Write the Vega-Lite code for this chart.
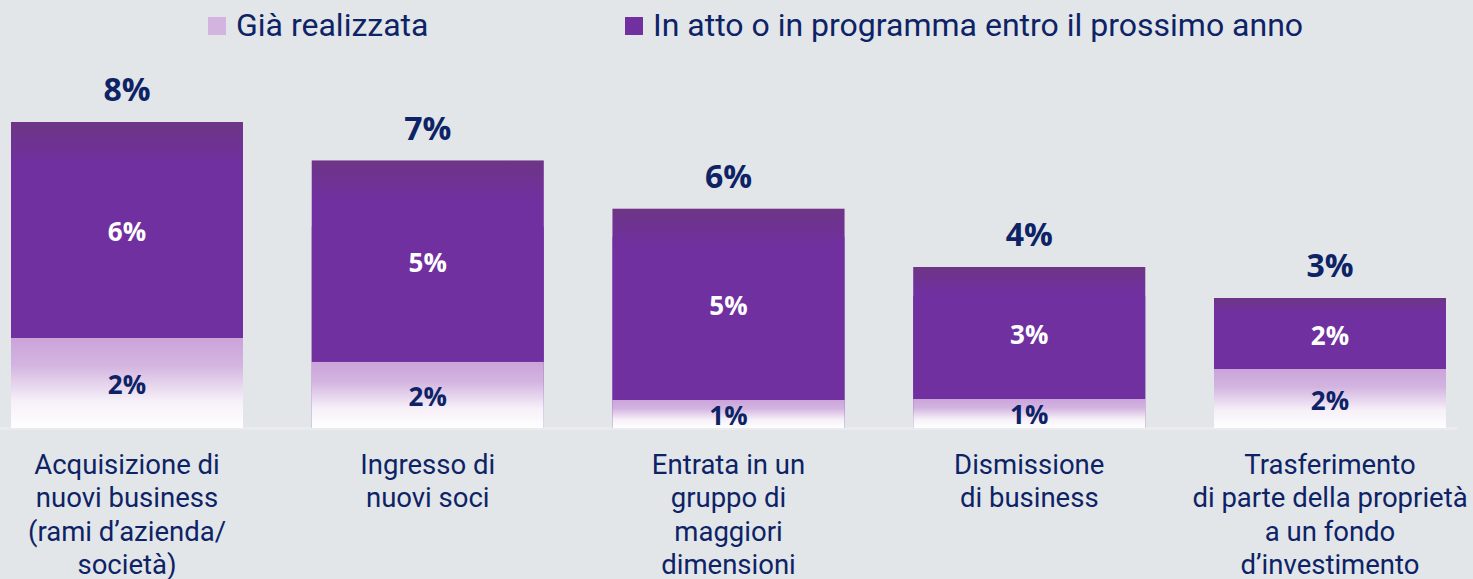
{
  "$schema": "https://vega.github.io/schema/vega-lite/v6.json",
  "width": 1457,
  "height": 368,
  "autosize": {"type": "none"},
  "padding": {"left": 0, "top": 60, "right": 16, "bottom": 151},
  "background": "#e2e6e9",
  "config": {"view": {"stroke": null}},
  "data": {
    "values": [
      {"cat": "Acquisizione di|nuovi business|(rami d’azienda/|società)", "serie": "Già realizzata", "value": 0.0235},
      {"cat": "Acquisizione di|nuovi business|(rami d’azienda/|società)", "serie": "In atto o in programma entro il prossimo anno", "value": 0.0565},
      {"cat": "Ingresso di|nuovi soci", "serie": "Già realizzata", "value": 0.0173},
      {"cat": "Ingresso di|nuovi soci", "serie": "In atto o in programma entro il prossimo anno", "value": 0.0526},
      {"cat": "Entrata in un|gruppo di|maggiori|dimensioni", "serie": "Già realizzata", "value": 0.0073},
      {"cat": "Entrata in un|gruppo di|maggiori|dimensioni", "serie": "In atto o in programma entro il prossimo anno", "value": 0.05},
      {"cat": "Dismissione|di business", "serie": "Già realizzata", "value": 0.0076},
      {"cat": "Dismissione|di business", "serie": "In atto o in programma entro il prossimo anno", "value": 0.0345},
      {"cat": "Trasferimento|di parte della proprietà|a un fondo|d’investimento", "serie": "Già realizzata", "value": 0.0154},
      {"cat": "Trasferimento|di parte della proprietà|a un fondo|d’investimento", "serie": "In atto o in programma entro il prossimo anno", "value": 0.0186}
    ]
  },
  "encoding": {
    "x": {
      "field": "cat",
      "type": "nominal",
      "sort": null,
      "scale": {"paddingInner": 0.2286, "paddingOuter": 0.0366},
      "axis": {
        "title": null,
        "labelAngle": 0,
        "ticks": false,
        "domain": true,
        "domainColor": "#eaebee",
        "domainWidth": 3,
        "labelFont": "Roboto",
        "labelFontSize": 27.5,
        "labelColor": "#0d2366",
        "labelLineHeight": 33.5,
        "labelPadding": 23,
        "labelOverlap": false,
        "labelLimit": 500,
        "labelExpr": "split(datum.value, '|')"
      }
    }
  },
  "layer": [
    {
      "mark": {"type": "bar"},
      "encoding": {
        "y": {"field": "value", "type": "quantitative", "stack": "zero", "scale": {"domain": [0, 0.0962]}, "axis": null},
        "color": {
          "field": "serie",
          "type": "nominal",
          "scale": {
            "domain": ["Già realizzata", "In atto o in programma entro il prossimo anno"],
            "range": ["#d3b4e0", "#7030a0"]
          },
          "legend": {
            "title": null,
            "orient": "none",
            "legendX": 201,
            "legendY": -50,
            "direction": "horizontal",
            "columns": 2,
            "columnPadding": 189,
            "symbolType": "square",
            "symbolSize": 324,
            "symbolStrokeWidth": 0,
            "labelFont": "Roboto",
            "labelFontSize": 32,
            "labelColor": "#0d2366",
            "labelOffset": 3,
            "labelLimit": 800
          }
        }
      }
    },
    {
      "transform": [
        {"stack": "value", "groupby": ["cat"], "sort": [{"field": "serie", "order": "ascending"}], "as": ["y0", "y1"]},
        {"filter": {"field": "serie", "equal": "Già realizzata"}}
      ],
      "mark": {
        "type": "bar",
        "color": {"gradient": "linear", "x1": 0, "y1": 0, "x2": 0, "y2": 1, "stops": [
          {"offset": 0, "color": "#cba4da"},
          {"offset": 0.3, "color": "#d3b4e0"},
          {"offset": 0.7, "color": "#f6f0f8"},
          {"offset": 1, "color": "#ffffff"}
        ]}
      },
      "encoding": {
        "y": {"field": "y0", "type": "quantitative", "scale": {"domain": [0, 0.0962]}, "axis": null},
        "y2": {"field": "y1"}
      }
    },
    {
      "transform": [
        {"stack": "value", "groupby": ["cat"], "sort": [{"field": "serie", "order": "ascending"}], "as": ["y0", "y1"]},
        {"filter": {"field": "serie", "equal": "In atto o in programma entro il prossimo anno"}}
      ],
      "mark": {
        "type": "bar",
        "color": {"gradient": "linear", "x1": 0, "y1": 0, "x2": 0, "y2": 1, "stops": [
          {"offset": 0, "color": "#6e3586"},
          {"offset": 0.2, "color": "#7030a0"},
          {"offset": 1, "color": "#7030a0"}
        ]}
      },
      "encoding": {
        "y": {"field": "y0", "type": "quantitative", "scale": {"domain": [0, 0.0962]}, "axis": null},
        "y2": {"field": "y1"}
      }
    },
    {
      "transform": [
        {"stack": "value", "groupby": ["cat"], "sort": [{"field": "serie", "order": "ascending"}], "as": ["y0", "y1"]},
        {"filter": {"field": "serie", "equal": "Già realizzata"}},
        {"fold": ["y0", "y1"], "as": ["k", "v"]}
      ],
      "mark": {"type": "text", "font": "Open Sans", "fontWeight": 700, "fontSize": 26, "color": "#0d2366", "baseline": "middle", "dy": 3},
      "encoding": {
        "y": {"aggregate": "mean", "field": "v", "type": "quantitative", "scale": {"domain": [0, 0.0962]}, "axis": null},
        "text": {"aggregate": "max", "field": "value", "type": "quantitative", "format": ".0%"}
      }
    },
    {
      "transform": [
        {"stack": "value", "groupby": ["cat"], "sort": [{"field": "serie", "order": "ascending"}], "as": ["y0", "y1"]},
        {"filter": {"field": "serie", "equal": "In atto o in programma entro il prossimo anno"}},
        {"fold": ["y0", "y1"], "as": ["k", "v"]}
      ],
      "mark": {"type": "text", "font": "Open Sans", "fontWeight": 700, "fontSize": 26, "color": "#ffffff", "baseline": "middle", "dy": 3},
      "encoding": {
        "y": {"aggregate": "mean", "field": "v", "type": "quantitative", "scale": {"domain": [0, 0.0962]}, "axis": null},
        "text": {"aggregate": "max", "field": "value", "type": "quantitative", "format": ".0%"}
      }
    },
    {
      "mark": {"type": "text", "font": "Open Sans", "fontWeight": 700, "fontSize": 32, "color": "#0d2366", "baseline": "alphabetic", "dy": -21},
      "encoding": {
        "y": {"aggregate": "sum", "field": "value", "type": "quantitative", "scale": {"domain": [0, 0.0962]}, "axis": null},
        "text": {"aggregate": "sum", "field": "value", "type": "quantitative", "format": ".0%"}
      }
    }
  ]
}
